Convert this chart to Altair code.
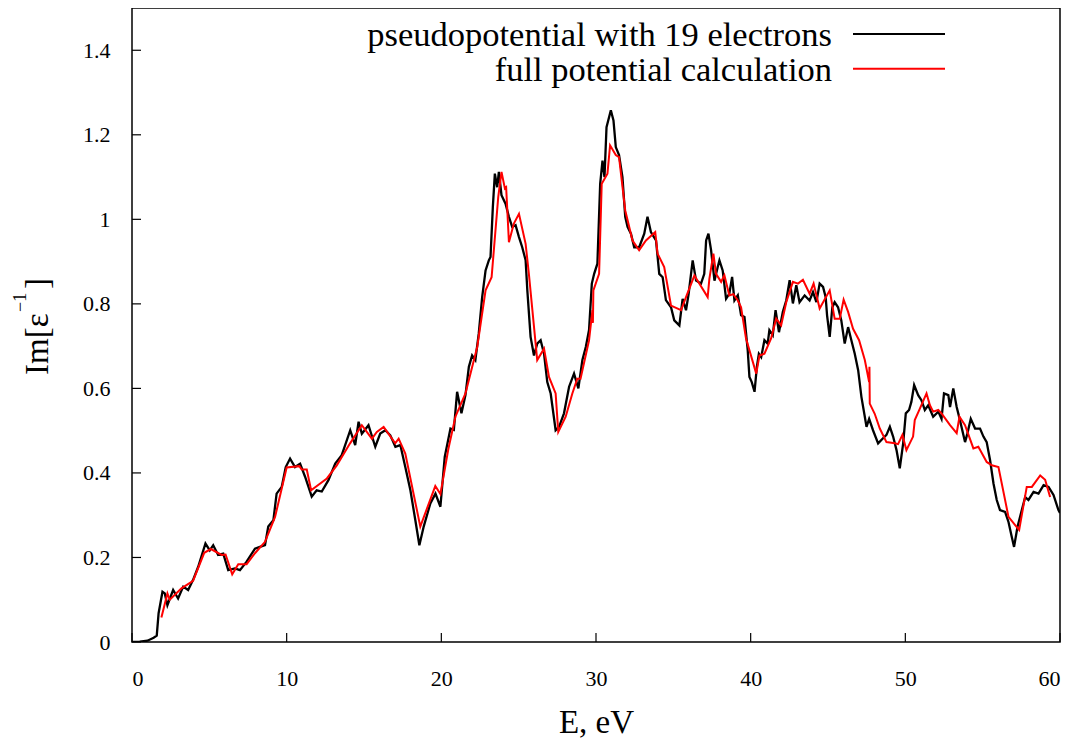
import altair as alt
import pandas as pd

# ---- data ----
energy_pp = [0.0, 0.5, 1.0, 1.4, 1.6, 1.72, 1.97, 2.12, 2.29, 2.66, 2.98, 3.31, 3.63, 3.95, 4.28,
             4.75, 5.03, 5.25, 5.57, 5.90, 6.22, 6.65, 6.98, 7.41, 7.95, 8.27, 8.60, 8.81, 9.14,
             9.35, 9.68, 9.94, 10.22, 10.54, 10.87, 11.19, 11.62, 11.94, 12.27, 12.70, 13.14,
             13.56, 14.11, 14.43, 14.65, 14.86, 15.29, 15.73, 16.05, 16.38, 16.70, 17.03, 17.35,
             17.67, 18.00, 18.32, 18.58, 18.86, 19.29, 19.62, 19.94, 20.22, 20.59, 20.81, 21.02,
             21.30, 21.56, 21.78, 21.99, 22.20, 22.42, 22.64, 22.86, 23.07, 23.18, 23.33, 23.46,
             23.61, 23.72, 23.89, 24.15, 24.37, 24.58, 24.80, 25.02, 25.23, 25.45, 25.56, 25.77,
             25.99, 26.20, 26.42, 26.64, 26.85, 27.07, 27.39, 27.61, 27.93, 28.26, 28.58, 28.86,
             29.12, 29.34, 29.55, 29.73, 29.88, 30.09, 30.27, 30.42, 30.55, 30.68, 30.96, 31.13,
             31.28, 31.49, 31.71, 31.89, 32.04, 32.26, 32.47, 32.79, 33.12, 33.33, 33.55, 33.88,
             34.09, 34.31, 34.52, 34.85, 35.06, 35.39, 35.60, 35.82, 35.99, 36.25, 36.47, 36.79,
             37.00, 37.12, 37.27, 37.44, 37.66, 37.87, 37.98, 38.19, 38.41, 38.62, 38.80, 38.95,
             39.17, 39.38, 39.60, 39.81, 39.92, 40.07, 40.25, 40.40, 40.53, 40.68, 40.89, 41.10,
             41.21, 41.43, 41.61, 41.83, 42.08, 42.30, 42.52, 42.73, 42.95, 43.16, 43.49, 43.81,
             44.03, 44.25, 44.46, 44.68, 44.85, 44.94, 45.11, 45.28, 45.43, 45.65, 45.86, 46.08,
             46.30, 46.51, 46.73, 46.95, 47.16, 47.38, 47.49, 47.66, 47.91, 48.24, 48.56, 48.78,
             49.00, 49.21, 49.43, 49.64, 49.86, 50.03, 50.24, 50.39, 50.57, 50.83, 51.04, 51.26,
             51.48, 51.80, 52.13, 52.34, 52.50, 52.78, 52.89, 53.10, 53.32, 53.53, 53.86, 54.01,
             54.23, 54.51, 54.83, 55.05, 55.26, 55.48, 55.70, 55.91, 56.12, 56.45, 56.67, 56.88,
             57.03, 57.25, 57.53, 57.75, 57.96, 58.29, 58.61, 58.94, 59.26, 59.58, 59.90, 60.00]
im_pp = [0.0, 0.001, 0.003, 0.01, 0.015, 0.068, 0.119, 0.115, 0.087, 0.123, 0.103, 0.131, 0.123,
         0.147, 0.178, 0.233, 0.217, 0.229, 0.206, 0.209, 0.170, 0.174, 0.170, 0.190, 0.221, 0.225,
         0.229, 0.273, 0.288, 0.351, 0.367, 0.414, 0.434, 0.414, 0.422, 0.391, 0.344, 0.359, 0.356,
         0.383, 0.422, 0.442, 0.501, 0.466, 0.521, 0.493, 0.513, 0.462, 0.493, 0.501, 0.489, 0.462,
         0.466, 0.414, 0.359, 0.288, 0.229, 0.273, 0.328, 0.351, 0.320, 0.438, 0.505, 0.502, 0.592,
         0.541, 0.584, 0.651, 0.678, 0.667, 0.730, 0.816, 0.879, 0.903, 0.911, 1.029, 1.108, 1.076,
         1.112, 1.057, 1.037, 1.006, 0.982, 0.986, 0.958, 0.934, 0.903, 0.832, 0.722, 0.678, 0.706,
         0.714, 0.682, 0.615, 0.588, 0.501, 0.509, 0.541, 0.604, 0.635, 0.600, 0.667, 0.698, 0.738,
         0.848, 0.871, 0.895, 1.084, 1.139, 1.100, 1.218, 1.258, 1.234, 1.171, 1.152, 1.100, 1.006,
         0.982, 0.966, 0.934, 0.934, 0.966, 1.006, 0.970, 0.950, 0.871, 0.863, 0.809, 0.792, 0.761,
         0.749, 0.812, 0.785, 0.824, 0.903, 0.855, 0.848, 0.871, 0.950, 0.966, 0.927, 0.855, 0.887,
         0.903, 0.879, 0.812, 0.824, 0.864, 0.808, 0.820, 0.773, 0.769, 0.690, 0.627, 0.615, 0.592,
         0.651, 0.682, 0.674, 0.714, 0.706, 0.738, 0.726, 0.785, 0.733, 0.781, 0.808, 0.856, 0.801,
         0.844, 0.804, 0.820, 0.808, 0.828, 0.804, 0.848, 0.840, 0.816, 0.773, 0.722, 0.792, 0.804,
         0.792, 0.761, 0.706, 0.745, 0.714, 0.682, 0.643, 0.580, 0.533, 0.509, 0.528, 0.501, 0.470,
         0.482, 0.490, 0.509, 0.486, 0.454, 0.411, 0.470, 0.541, 0.549, 0.568, 0.608, 0.584, 0.572,
         0.549, 0.560, 0.533, 0.545, 0.528, 0.588, 0.584, 0.556, 0.600, 0.556, 0.525, 0.473, 0.493,
         0.528, 0.505, 0.505, 0.486, 0.473, 0.430, 0.375, 0.336, 0.312, 0.308, 0.284, 0.249, 0.225,
         0.272, 0.312, 0.343, 0.336, 0.355, 0.351, 0.371, 0.367, 0.348, 0.312, 0.305]

energy_fp = [1.90, 2.29, 2.44, 3.20, 3.95, 4.67, 5.10, 5.79, 6.05, 6.48, 6.87, 7.41, 7.95, 8.60,
             9.25, 10.00, 10.82, 10.97, 11.30, 11.58, 12.60, 13.24, 14.10, 14.86, 15.51, 15.83,
             16.27, 17.02, 17.24, 17.67, 18.64, 19.61, 19.94, 20.45, 20.91, 21.56, 22.32, 22.86,
             23.25, 23.68, 23.89, 24.11, 24.19, 24.37, 24.69, 25.02, 25.45, 25.66, 26.20, 26.64,
             26.96, 27.39, 27.56, 28.04, 28.47, 28.79, 29.00, 29.55, 29.77, 29.80, 29.83, 30.20,
             30.37, 30.74, 30.91, 31.28, 31.49, 31.89, 32.36, 32.79, 33.23, 33.83, 33.98, 34.41,
             34.85, 35.50, 35.82, 36.36, 37.22, 37.33, 37.59, 37.76, 38.09, 38.30, 38.62, 38.88,
             39.17, 39.38, 39.70, 40.36, 40.57, 40.89, 41.32, 41.65, 41.97, 42.30, 42.73, 43.06,
             43.38, 43.81, 44.07, 44.46, 45.11, 45.43, 45.76, 46.01, 46.30, 46.62, 47.01, 47.38,
             47.66, 47.68, 47.70, 48.02, 48.35, 48.78, 49.32, 49.53, 49.81, 50.07, 50.50, 50.61,
             50.94, 51.37, 51.59, 51.80, 52.13, 52.34, 52.89, 53.32, 53.50, 53.86, 54.40, 54.72,
             55.26, 55.59, 56.02, 56.67, 57.36, 57.85, 58.18, 58.72, 59.04, 59.36]
im_fp = [0.058, 0.115, 0.100, 0.127, 0.145, 0.211, 0.220, 0.206, 0.207, 0.160, 0.184, 0.184,
         0.210, 0.237, 0.296, 0.413, 0.416, 0.408, 0.408, 0.359, 0.387, 0.418, 0.470, 0.513,
         0.481, 0.497, 0.509, 0.470, 0.481, 0.446, 0.273, 0.369, 0.350, 0.456, 0.533, 0.588,
         0.698, 0.832, 0.863, 1.053, 1.112, 1.073, 1.076, 0.946, 0.990, 1.013, 0.942, 0.871,
         0.667, 0.694, 0.627, 0.588, 0.497, 0.533, 0.588, 0.623, 0.623, 0.714, 0.785, 0.755,
         0.832, 0.871, 1.084, 1.108, 1.175, 1.152, 1.147, 1.021, 0.950, 0.927, 0.950, 0.970,
         0.919, 0.887, 0.796, 0.785, 0.816, 0.867, 0.816, 0.859, 0.919, 0.871, 0.852, 0.868,
         0.820, 0.823, 0.808, 0.792, 0.718, 0.635, 0.678, 0.682, 0.718, 0.765, 0.749, 0.804,
         0.852, 0.848, 0.857, 0.824, 0.848, 0.789, 0.832, 0.765, 0.765, 0.810, 0.781, 0.741,
         0.714, 0.667, 0.615, 0.651, 0.564, 0.540, 0.505, 0.473, 0.470, 0.468, 0.490, 0.454,
         0.486, 0.525, 0.552, 0.588, 0.560, 0.545, 0.549, 0.541, 0.513, 0.494, 0.533, 0.513,
         0.458, 0.462, 0.426, 0.418, 0.414, 0.296, 0.265, 0.367, 0.367, 0.394, 0.384, 0.343]

series_names = ["pseudopotential with 19 electrons", "full potential calculation"]
series_colors = ["#000000", "#ff0000"]
x_tick_values = [0, 10, 20, 30, 40, 50, 60]
y_tick_values = [0, 0.2, 0.4, 0.6, 0.8, 1.0, 1.2, 1.4]
x_title = "E, eV"
# y title "Im[ε^-1]" split into base text, superscript and closing bracket
y_title_parts = ["Im[ε", "−1", "]"]

FONT = "Liberation Serif"
W, H = 928, 634

df_pp = pd.DataFrame({"E": energy_pp, "Im": im_pp, "i": list(range(len(energy_pp)))})
df_fp = pd.DataFrame({"E": energy_fp, "Im": im_fp, "i": list(range(len(energy_fp)))})

x_scale = alt.Scale(domain=[0, 60], nice=False, zero=False)
y_scale = alt.Scale(domain=[0, 1.5], nice=False, zero=False)

x_axis = alt.Axis(values=x_tick_values, format="d", title=x_title, grid=False, ticks=False,
                  domain=False, labelFont=FONT, labelFontSize=22, labelColor="black",
                  labelPadding=26, titleFont=FONT, titleFontSize=33, titleFontWeight="normal",
                  titleColor="black", titlePadding=17)
y_axis = alt.Axis(values=y_tick_values, format="~g", title="", grid=False, ticks=False,
                  domain=False, labelFont=FONT, labelFontSize=22, labelColor="black",
                  labelPadding=22)

pp_line = alt.Chart(df_pp).mark_line(color=series_colors[0], strokeWidth=2.3, clip=True).encode(
    x=alt.X("E:Q", scale=x_scale, axis=x_axis),
    y=alt.Y("Im:Q", scale=y_scale, axis=y_axis),
    order="i:Q",
)
fp_line = alt.Chart(df_fp).mark_line(color=series_colors[1], strokeWidth=2, clip=True).encode(
    x=alt.X("E:Q", scale=x_scale, axis=x_axis),
    y=alt.Y("Im:Q", scale=y_scale, axis=y_axis),
    order="i:Q",
)

xt = alt.Chart(pd.DataFrame({"t": x_tick_values})).mark_rule(color="black", strokeWidth=1.2).encode(
    x=alt.X("t:Q", scale=x_scale, axis=x_axis),
    y=alt.value(H), y2=alt.value(H - 9),
)
yt = alt.Chart(pd.DataFrame({"t": y_tick_values})).mark_rule(color="black", strokeWidth=1.2).encode(
    y=alt.Y("t:Q", scale=y_scale, axis=y_axis),
    x=alt.value(0), x2=alt.value(9),
)

# rotated y-axis title pieces (position: plot-area pixels)
title_specs = [(y_title_parts[0], 33, -84, 367), (y_title_parts[1], 18, -106, 304),
               (y_title_parts[2], 33, -84, 281)]
title_layers = []
for txt, fs, px, py in title_specs:
    title_layers.append(alt.Chart(pd.DataFrame({"t": [txt]})).mark_text(
        align="left", baseline="alphabetic", angle=270, font=FONT, fontSize=fs,
        color="black").encode(text="t:N", x=alt.value(px), y=alt.value(py)))

leg_rows = []
for k, (name, col) in enumerate(zip(series_names, series_colors)):
    d = pd.DataFrame({"label": [name]})
    ty = 38 + 34.7 * k
    ly = 26 + 34.7 * k
    leg_rows.append(alt.Chart(d).mark_text(align="right", baseline="alphabetic", font=FONT,
                                           fontSize=34.5, color="black").encode(
        text="label:N", x=alt.value(700), y=alt.value(ty)))
    leg_rows.append(alt.Chart(d).mark_rule(color=col, strokeWidth=2).encode(
        x=alt.value(721), x2=alt.value(813), y=alt.value(ly)))

chart = alt.layer(pp_line, fp_line, xt, yt, *title_layers, *leg_rows).properties(
    width=W, height=H,
    autosize=alt.AutoSizeParams(type="none"),
    padding={"left": 124, "top": 0, "right": 10, "bottom": 98},
    background="white",
).configure_view(stroke="black", strokeWidth=1.5)

chart.save("out.html", embed_options={"renderer": "svg", "actions": False})
